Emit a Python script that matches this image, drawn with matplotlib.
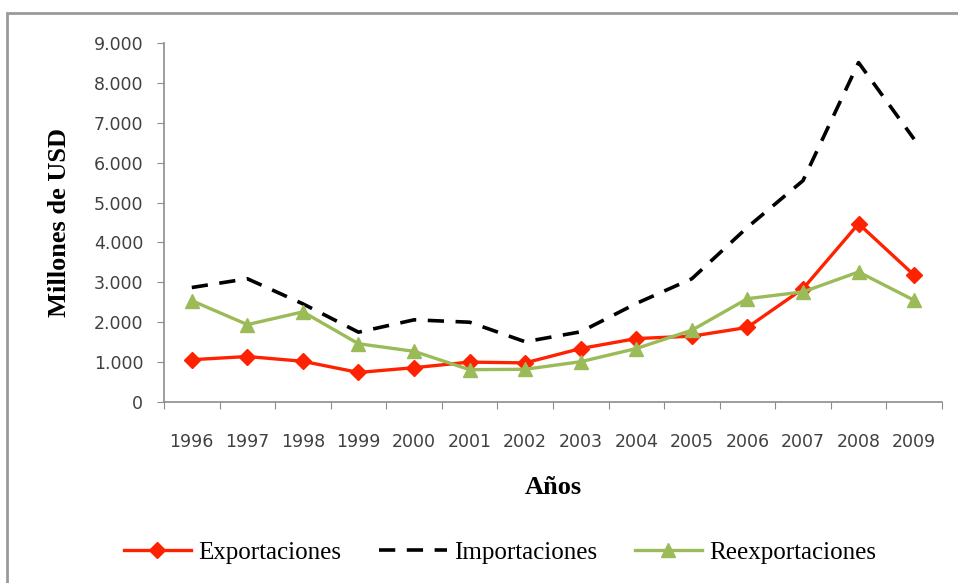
import matplotlib.pyplot as plt
from matplotlib.patches import Rectangle
from matplotlib.ticker import FuncFormatter

# data, millones de USD
years = ['1996', '1997', '1998', '1999', '2000', '2001', '2002',
         '2003', '2004', '2005', '2006', '2007', '2008', '2009']
exportaciones = [1060, 1140, 1020, 740, 860, 1000, 980,
                 1340, 1590, 1650, 1870, 2840, 4470, 3180]
importaciones = [2870, 3090, 2460, 1750, 2060, 2000, 1510,
                 1760, 2470, 3090, 4380, 5550, 8510, 6590]
reexportaciones = [2540, 1940, 2260, 1460, 1270, 810, 820,
                   1010, 1340, 1800, 2590, 2760, 3260, 2550]

serif = 'Liberation Serif'
tick_color = '#404040'
axis_color = '#8c8c8c'

fig = plt.figure(figsize=(9.58, 5.83), dpi=100)
ax = fig.add_axes([0.1712, 0.3105, 0.812, 0.6157])

# outer chart frame (cut off at right and bottom)
fig.patches.append(Rectangle((0.007, -0.1), 1.2, 0.9777 + 0.1, transform=fig.transFigure,
                             fill=False, edgecolor='#9a9a9a', linewidth=2.0))

x = list(range(len(years)))
ax.plot(x, exportaciones, color='#ff2200', lw=2.4, marker='D', markersize=8,
        label='Exportaciones')
ax.plot(x, importaciones, color='black', lw=2.6, dashes=(4.5, 3.2),
        label='Importaciones')
ax.plot(x, reexportaciones, color='#9bbb59', lw=2.4, marker='^', markersize=10,
        label='Reexportaciones')

ax.set_xlim(-0.5, len(years) - 0.5)
ax.set_ylim(0, 9000)
ax.set_yticks(range(0, 9001, 1000))
ax.yaxis.set_major_formatter(FuncFormatter(lambda v, p: f'{int(v):,}'.replace(',', '.')))

# category ticks sit between years, labels centred
ax.set_xticks([i - 0.5 for i in range(len(years) + 1)])
ax.set_xticklabels([])
ax.set_xticks(x, minor=True)
ax.set_xticklabels(years, minor=True)
ax.tick_params(axis='x', which='minor', length=0, pad=22, labelsize=12.5, labelcolor=tick_color)
ax.tick_params(axis='x', which='major', length=5, color=axis_color, direction='out')
ax.tick_params(axis='y', length=5, color=axis_color, labelsize=12.5, labelcolor=tick_color, pad=10)

for s in ['top', 'right']:
    ax.spines[s].set_visible(False)
for s in ['left', 'bottom']:
    ax.spines[s].set_color(axis_color)
    ax.spines[s].set_linewidth(1.2)

ax.set_xlabel('Años', fontfamily=serif, fontweight='bold', fontsize=19, labelpad=18)
ax.set_ylabel('Millones de USD', fontfamily=serif, fontweight='bold', fontsize=19, labelpad=16)

fig.legend(loc='center', bbox_to_anchor=(0.522, 0.052), ncol=3, frameon=False,
           prop={'family': serif, 'size': 18}, handlelength=2.7, columnspacing=1.5,
           handletextpad=0.3)

fig.savefig('out.png', dpi=100)
